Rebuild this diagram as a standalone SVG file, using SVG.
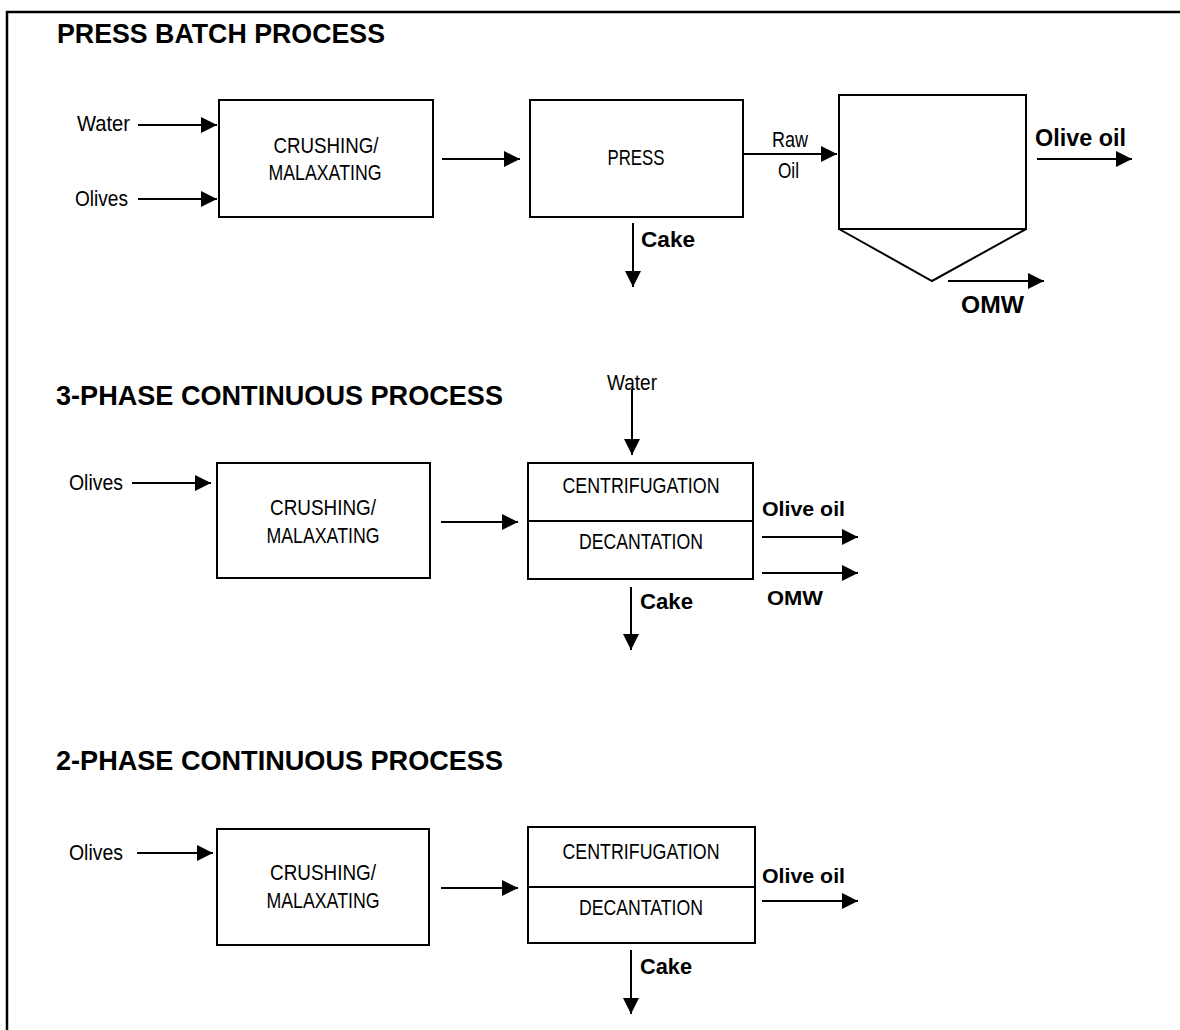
<svg xmlns="http://www.w3.org/2000/svg" width="1180" height="1030" viewBox="0 0 1180 1030">
<defs>
<marker id="ah" markerUnits="userSpaceOnUse" markerWidth="16" markerHeight="16" refX="16" refY="8" orient="auto">
<path d="M0,0 L16,8 L0,16 z" fill="#000"/>
</marker>
<style>
.box{fill:#fff;stroke:#000;stroke-width:2}
.ln{fill:none;stroke:#000;stroke-width:2}
.ar{fill:none;stroke:#000;stroke-width:2;marker-end:url(#ah)}
.t{font-family:"Liberation Sans",Arial,sans-serif;font-size:22px;fill:#000}
.c{text-anchor:middle}
.b{font-family:"Liberation Sans",Arial,sans-serif;font-weight:bold;fill:#000}
.h{font-family:"Liberation Sans",Arial,sans-serif;font-weight:bold;font-size:28px;fill:#000}
</style>
</defs>
<rect width="1180" height="1030" fill="#fff"/>
<path d="M7,1030 V12 H1180" fill="none" stroke="#000" stroke-width="2.5"/>

<!-- titles -->
<text class="h" x="57" y="43" textLength="328" lengthAdjust="spacingAndGlyphs">PRESS BATCH PROCESS</text>
<text class="h" x="56" y="405" textLength="447" lengthAdjust="spacingAndGlyphs">3-PHASE CONTINUOUS PROCESS</text>
<text class="h" x="56" y="770" textLength="447" lengthAdjust="spacingAndGlyphs">2-PHASE CONTINUOUS PROCESS</text>

<!-- Section 1 nodes -->
<g id="crush1">
<rect class="box" x="219" y="100" width="214" height="117"/>
<text class="t c" x="326" y="153" textLength="105" lengthAdjust="spacingAndGlyphs">CRUSHING/</text>
<text class="t c" x="325" y="180" textLength="113" lengthAdjust="spacingAndGlyphs">MALAXATING</text>
</g>
<g id="press">
<rect class="box" x="530" y="100" width="213" height="117"/>
<text class="t c" x="636" y="165" textLength="57" lengthAdjust="spacingAndGlyphs">PRESS</text>
</g>
<g id="tank">
<rect class="box" x="839" y="95" width="187" height="134"/>
<path class="ln" d="M839,229 L932,281 L1026,229"/>
</g>

<!-- Section 2 nodes -->
<g id="crush2">
<rect class="box" x="217" y="463" width="213" height="115"/>
<text class="t c" x="323" y="515" textLength="106" lengthAdjust="spacingAndGlyphs">CRUSHING/</text>
<text class="t c" x="323" y="543" textLength="113" lengthAdjust="spacingAndGlyphs">MALAXATING</text>
</g>
<g id="centr2">
<rect class="box" x="528" y="463" width="225" height="116"/>
<line class="ln" x1="528" y1="521" x2="753" y2="521"/>
<text class="t c" x="641" y="493" textLength="157" lengthAdjust="spacingAndGlyphs">CENTRIFUGATION</text>
<text class="t c" x="641" y="549" textLength="124" lengthAdjust="spacingAndGlyphs">DECANTATION</text>
</g>

<!-- Section 3 nodes -->
<g id="crush3">
<rect class="box" x="217" y="829" width="212" height="116"/>
<text class="t c" x="323" y="880" textLength="106" lengthAdjust="spacingAndGlyphs">CRUSHING/</text>
<text class="t c" x="323" y="908" textLength="113" lengthAdjust="spacingAndGlyphs">MALAXATING</text>
</g>
<g id="centr3">
<rect class="box" x="528" y="827" width="227" height="116"/>
<line class="ln" x1="528" y1="887" x2="755" y2="887"/>
<text class="t c" x="641" y="859" textLength="157" lengthAdjust="spacingAndGlyphs">CENTRIFUGATION</text>
<text class="t c" x="641" y="915" textLength="124" lengthAdjust="spacingAndGlyphs">DECANTATION</text>
</g>

<!-- connectors -->
<g id="connectors">
<line class="ar" x1="138" y1="125" x2="217" y2="125"/>
<line class="ar" x1="138" y1="199" x2="217" y2="199"/>
<line class="ar" x1="442" y1="159" x2="520" y2="159"/>
<line class="ar" x1="743" y1="154" x2="837" y2="154"/>
<line class="ar" x1="1037" y1="159" x2="1132" y2="159"/>
<line class="ar" x1="948" y1="281" x2="1044" y2="281"/>
<line class="ar" x1="633" y1="223" x2="633" y2="287"/>

<line class="ar" x1="632" y1="389" x2="632" y2="455"/>
<line class="ar" x1="132" y1="483" x2="211" y2="483"/>
<line class="ar" x1="441" y1="522" x2="518" y2="522"/>
<line class="ar" x1="762" y1="537" x2="858" y2="537"/>
<line class="ar" x1="762" y1="573" x2="858" y2="573"/>
<line class="ar" x1="631" y1="587" x2="631" y2="650"/>

<line class="ar" x1="137" y1="853" x2="213" y2="853"/>
<line class="ar" x1="441" y1="888" x2="518" y2="888"/>
<line class="ar" x1="762" y1="901" x2="858" y2="901"/>
<line class="ar" x1="631" y1="950" x2="631" y2="1014"/>
</g>

<!-- connector labels -->
<g id="labels">
<text class="t" x="77" y="131" textLength="53" lengthAdjust="spacingAndGlyphs">Water</text>
<text class="t" x="75" y="206" textLength="53" lengthAdjust="spacingAndGlyphs">Olives</text>
<text class="t" x="772" y="147" textLength="36" lengthAdjust="spacingAndGlyphs">Raw</text>
<text class="t" x="778" y="178" textLength="21" lengthAdjust="spacingAndGlyphs">Oil</text>
<text class="b" x="1035" y="146" font-size="24" textLength="91" lengthAdjust="spacingAndGlyphs">Olive oil</text>
<text class="b" x="961" y="313" font-size="24" textLength="63" lengthAdjust="spacingAndGlyphs">OMW</text>
<text class="b" x="641" y="247" font-size="22" textLength="54" lengthAdjust="spacingAndGlyphs">Cake</text>

<text class="t c" x="632" y="390" textLength="50" lengthAdjust="spacingAndGlyphs">Water</text>
<text class="t" x="69" y="490" textLength="54" lengthAdjust="spacingAndGlyphs">Olives</text>
<text class="b" x="762" y="516" font-size="20" textLength="83" lengthAdjust="spacingAndGlyphs">Olive oil</text>
<text class="b" x="767" y="605" font-size="20" textLength="56" lengthAdjust="spacingAndGlyphs">OMW</text>
<text class="b" x="640" y="609" font-size="22" textLength="53" lengthAdjust="spacingAndGlyphs">Cake</text>

<text class="t" x="69" y="860" textLength="54" lengthAdjust="spacingAndGlyphs">Olives</text>
<text class="b" x="762" y="883" font-size="20" textLength="83" lengthAdjust="spacingAndGlyphs">Olive oil</text>
<text class="b" x="640" y="974" font-size="22" textLength="52" lengthAdjust="spacingAndGlyphs">Cake</text>
</g>
</svg>
